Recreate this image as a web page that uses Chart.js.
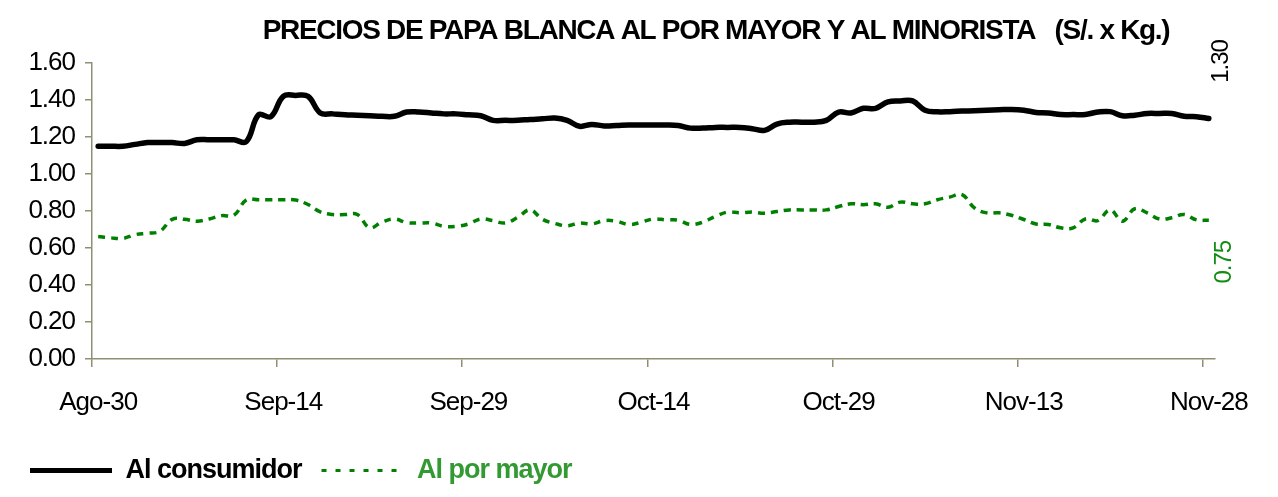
<!DOCTYPE html>
<html lang="es">
<head>
  <meta charset="UTF-8">
  <title>Precios de papa blanca</title>
  <style>
    body { margin: 0; background: #ffffff; }
    canvas { display: block; }
  </style>
</head>
<body>
  <canvas id="papaChart" width="1278" height="497"></canvas>

  <script src="https://cdn.jsdelivr.net/npm/chart.js"></script>
  <script>
    const chartTitle = 'PRECIOS DE PAPA BLANCA AL POR MAYOR Y AL MINORISTA   (S/. x Kg.)';

    // dias del periodo: Ago-30 ... Nov-28
    const monthSpans = [['Ago', 30, 31], ['Sep', 1, 30], ['Oct', 1, 31], ['Nov', 1, 28]];
    const days = [];
    monthSpans.forEach(([m, from, to]) => {
      for (let d = from; d <= to; d++) days.push(m + '-' + d);
    });
    const tickLabels = ['Ago-30', 'Sep-14', 'Sep-29', 'Oct-14', 'Oct-29', 'Nov-13', 'Nov-28'];
    const yTicks = [0, 0.2, 0.4, 0.6, 0.8, 1.0, 1.2, 1.4, 1.6];

    const seriesNames = ['Al consumidor', 'Al por mayor'];

    const consumidor = [
      1.15, 1.15, 1.15, 1.16, 1.17, 1.17, 1.17, 1.165, 1.185, 1.185,
      1.185, 1.185, 1.175, 1.32, 1.31, 1.42, 1.425, 1.42, 1.33, 1.325,
      1.32, 1.318, 1.315, 1.312, 1.312, 1.335, 1.335, 1.33, 1.325, 1.325,
      1.32, 1.315, 1.29, 1.29, 1.29, 1.295, 1.298, 1.303, 1.29, 1.258,
      1.268, 1.26, 1.262, 1.265, 1.265, 1.265, 1.265, 1.262, 1.248, 1.248,
      1.252, 1.252, 1.252, 1.245, 1.236, 1.27, 1.28, 1.28, 1.28, 1.29,
      1.335, 1.33, 1.355, 1.355, 1.39, 1.395, 1.395, 1.345, 1.336, 1.337,
      1.34, 1.342, 1.345, 1.347, 1.349, 1.345, 1.333, 1.33, 1.321, 1.321,
      1.322, 1.335, 1.337, 1.315, 1.318, 1.327, 1.327, 1.327, 1.312, 1.31,
      1.30
    ];

    const porMayor = [
      0.662, 0.655, 0.652, 0.672, 0.68, 0.69, 0.755, 0.755, 0.745, 0.757,
      0.775, 0.777, 0.86, 0.861, 0.861, 0.861, 0.859, 0.835, 0.795, 0.781,
      0.781, 0.781, 0.71, 0.74, 0.757, 0.737, 0.735, 0.735, 0.717, 0.717,
      0.73, 0.757, 0.748, 0.735, 0.766, 0.806, 0.755, 0.733, 0.72, 0.735,
      0.73, 0.748, 0.745, 0.727, 0.739, 0.757, 0.752, 0.75, 0.727, 0.74,
      0.77, 0.794, 0.79, 0.794, 0.788, 0.797, 0.806, 0.806, 0.806, 0.806,
      0.824, 0.839, 0.834, 0.839, 0.82, 0.848, 0.839, 0.839, 0.861, 0.875,
      0.889, 0.817, 0.79, 0.79, 0.777, 0.754, 0.73, 0.727, 0.709, 0.709,
      0.757, 0.748, 0.806, 0.745, 0.812, 0.79, 0.757, 0.763, 0.781, 0.752,
      0.75
    ];

    const axisColor = '#8f8f73';
    const fontFamily = '"Liberation Sans", Arial, sans-serif';

    // el texto del original va muy apretado
    const tightText = {
      id: 'tightText',
      beforeUpdate(chart) { chart.ctx.letterSpacing = '-1px'; },
      beforeDraw(chart) { chart.ctx.letterSpacing = '-1px'; }
    };

    const titleDraw = {
      id: 'titleDraw',
      afterDraw(chart) {
        const ctx = chart.ctx;
        ctx.save();
        ctx.letterSpacing = '-1.3px';
        ctx.font = 'bold 28px ' + fontFamily;
        ctx.fillStyle = '#000';
        ctx.textAlign = 'center';
        ctx.textBaseline = 'middle';
        ctx.fillText(chartTitle, 716, 31);
        ctx.restore();
      }
    };

    // etiquetas verticales con el ultimo valor
    const endLabelStyle = [
      { color: '#000000', dx: 13, dy: -57 },
      { color: '#128c12', dx: 16, dy: 42 }
    ];
    const endLabels = {
      id: 'endLabels',
      afterDatasetsDraw(chart) {
        const ctx = chart.ctx;
        chart.data.datasets.forEach((ds, i) => {
          const meta = chart.getDatasetMeta(i);
          const pt = meta.data[meta.data.length - 1];
          const v = ds.data[ds.data.length - 1];
          const st = endLabelStyle[i];
          ctx.save();
          ctx.translate(pt.x + st.dx, pt.y + st.dy);
          ctx.rotate(-Math.PI / 2);
          ctx.letterSpacing = '-1px';
          ctx.font = '24px ' + fontFamily;
          ctx.fillStyle = st.color;
          ctx.textAlign = 'center';
          ctx.textBaseline = 'middle';
          ctx.fillText(v.toFixed(2), 0, 0);
          ctx.restore();
        });
      }
    };

    const legendTextColors = ['#000000', '#339933'];

    const config = {
      type: 'line',
      data: {
        labels: days,
        datasets: [{
          label: seriesNames[0],
          data: consumidor,
          borderColor: '#000000',
          backgroundColor: '#000000',
          borderWidth: 5.5,
          borderCapStyle: 'round',
          borderJoinStyle: 'round',
          pointRadius: 0,
          tension: 0.4
        }, {
          label: seriesNames[1],
          data: porMayor,
          borderColor: '#008000',
          backgroundColor: '#008000',
          borderWidth: 3.5,
          borderDash: [7, 6],
          pointRadius: 0,
          tension: 0.4
        }]
      },
      options: {
        responsive: false,
        animation: false,
        events: [],
        layout: { padding: { top: 63, left: 10, right: 63, bottom: 3 } },
        scales: {
          x: {
            offset: true,
            grid: {
              offset: true,
              drawOnChartArea: false,
              tickLength: 8,
              lineWidth: 1.5,
              tickWidth: 1.5,
              tickColor: (c) => (c.index !== undefined && c.index % 15 === 0) ? axisColor : 'rgba(0,0,0,0)'
            },
            border: { color: axisColor, width: 1.5 },
            ticks: {
              autoSkip: false,
              maxRotation: 0,
              padding: 20,
              color: '#000',
              font: { family: fontFamily, size: 26 },
              callback: function (v, i) {
                const lab = days[i];
                return tickLabels.includes(lab) ? lab : '';
              }
            },
            afterFit(scale) { scale.height = 78; }
          },
          y: {
            min: 0,
            max: 1.6,
            grid: {
              drawOnChartArea: false,
              tickLength: 7,
              color: axisColor,
              lineWidth: 1.5
            },
            border: { color: axisColor, width: 1.5 },
            afterBuildTicks(scale) { scale.ticks = yTicks.map(v => ({ value: v })); },
            ticks: {
              padding: 10,
              color: '#000',
              font: { family: fontFamily, size: 26 },
              callback: (v) => Number(v).toFixed(2)
            },
            afterFit(scale) { scale.width = 82; }
          }
        },
        plugins: {
          title: { display: false },
          tooltip: { enabled: false },
          legend: {
            position: 'bottom',
            align: 'start',
            labels: {
              usePointStyle: true,
              pointStyleWidth: 82,
              padding: 20,
              font: { family: fontFamily, size: 27, weight: 'bold' },
              generateLabels(chart) {
                return chart.data.datasets.map((ds, i) => ({
                  text: ds.label,
                  fontColor: legendTextColors[i],
                  strokeStyle: ds.borderColor,
                  fillStyle: ds.borderColor,
                  lineWidth: i === 0 ? 5 : 3,
                  lineDash: i === 0 ? [] : [5, 9],
                  pointStyle: 'line',
                  hidden: false,
                  datasetIndex: i
                }));
              }
            }
          }
        }
      },
      plugins: [tightText, titleDraw, endLabels]
    };

    const ctx = document.getElementById('papaChart').getContext('2d');
    const papaChart = new Chart(ctx, config);
  </script>
</body>
</html>
